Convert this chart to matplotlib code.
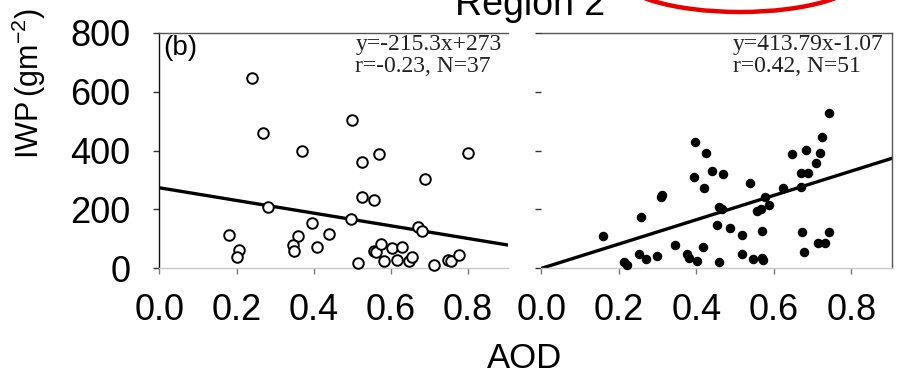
import matplotlib
matplotlib.use("Agg")
import matplotlib.pyplot as plt
from matplotlib.patches import Ellipse
import numpy as np

# ---- data -------------------------------------------------------------
aod_b = [0.24, 0.27, 0.37, 0.50, 0.525, 0.57, 0.80, 0.69, 0.526, 0.558,
         0.281, 0.498, 0.396, 0.670, 0.681, 0.180, 0.359, 0.441, 0.346, 0.350,
         0.409, 0.206, 0.202, 0.515, 0.556, 0.562, 0.575, 0.605, 0.630, 0.584,
         0.616, 0.649, 0.656, 0.714, 0.748, 0.757, 0.778]
iwp_b = [648, 461, 400, 503, 360, 388, 393, 303, 243, 230,
         207, 166, 153, 139, 125, 114, 108, 115, 79, 57,
         70, 60, 36, 17, 57, 53, 82, 68, 71, 23,
         26, 23, 37, 9, 26, 23, 43]

aod_c = [0.742, 0.725, 0.720, 0.684, 0.648, 0.710, 0.670, 0.689, 0.670, 0.623,
         0.397, 0.426, 0.439, 0.468, 0.393, 0.420, 0.538, 0.308, 0.311, 0.258,
         0.160, 0.458, 0.465, 0.576, 0.588, 0.556, 0.566, 0.453, 0.488, 0.517,
         0.569, 0.672, 0.742, 0.713, 0.733, 0.678, 0.345, 0.416, 0.253, 0.270,
         0.299, 0.212, 0.222, 0.376, 0.381, 0.402, 0.459, 0.517, 0.546, 0.569,
         0.572]
iwp_c = [529, 447, 391, 402, 388, 359, 325, 325, 275, 272,
         428, 391, 331, 320, 309, 272, 291, 243, 248, 175,
         110, 207, 200, 243, 215, 195, 200, 145, 136, 113,
         125, 121, 122, 85, 85, 54, 79, 71, 48, 31,
         40, 19, 9, 48, 34, 23, 19, 49, 32, 34,
         28]

fit_b = (-215.3, 273.0)     # slope, intercept
fit_c = (413.79, -1.07)
stats_b = "y=-215.3x+273\nr=-0.23, N=37"
stats_c = "y=413.79x-1.07\nr=0.42, N=51"

x_ticks = [0.0, 0.2, 0.4, 0.6, 0.8]
y_ticks = [0, 200, 400, 600, 800]
x_lim = (0.0, 0.905)
y_lim = (0, 800)

SANS = ["Liberation Sans", "DejaVu Sans"]
SERIF = ["Liberation Serif", "DejaVu Serif"]

W, H = 903, 374
fig = plt.figure(figsize=(W / 100, H / 100), dpi=100)
fig.patch.set_facecolor("white")


def px_axes(x0, x1, y0, y1):
    return fig.add_axes([x0 / W, 1 - y1 / H, (x1 - x0) / W, (y1 - y0) / H])


ax_b = px_axes(159.5, 508, 33, 268)
ax_c = px_axes(541.5, 892, 33, 268)

for ax in (ax_b, ax_c):
    ax.set_xlim(*x_lim)
    ax.set_ylim(*y_lim)
    ax.set_xticks(x_ticks)
    ax.set_xticklabels([f"{t:.1f}" for t in x_ticks])
    ax.set_yticks(y_ticks)
    ax.tick_params(axis="x", direction="out", length=4, width=1,
                   color="#777777", pad=14, labelsize=26)
    ax.tick_params(axis="y", direction="out", length=4, width=1,
                   color="#333333", pad=17, labelsize=26)
    for lab in ax.get_xticklabels() + ax.get_yticklabels():
        lab.set_fontfamily(SANS)
    ax.spines["bottom"].set_color("#c8c8c8")
    ax.spines["top"].set_color("#555555")
    for s in ax.spines.values():
        s.set_linewidth(1.0)

ax_b.spines["right"].set_visible(False)
ax_b.spines["left"].set_color("#111111")
ax_c.spines["left"].set_visible(False)
ax_c.spines["right"].set_color("#555555")
ax_c.tick_params(axis="y", labelleft=False)

xx = np.array(x_lim)

# panel (b): open circles with fitted line
ax_b.scatter(aod_b, iwp_b, s=58, facecolors="white", edgecolors="black",
             linewidths=1.4, zorder=3, clip_on=False)
ax_b.plot(xx, fit_b[0] * xx + fit_b[1], color="black", lw=2.4, zorder=2)
ax_b.text(0.011, 0.99, "(b)", transform=ax_b.transAxes, ha="left", va="top",
          fontsize=20, family=SANS)
ax_b.text(0.562, 0.997, stats_b, transform=ax_b.transAxes, ha="left", va="top",
          fontsize=17, family=SERIF, color="#222222", linespacing=1.1)

# second panel: filled dots with fitted line
ax_c.scatter(aod_c, iwp_c, s=34, color="black", zorder=3, clip_on=False)
ax_c.plot(xx, fit_c[0] * xx + fit_c[1], color="black", lw=2.4, zorder=2)
ax_c.text(0.545, 0.997, stats_c, transform=ax_c.transAxes, ha="left", va="top",
          fontsize=17, family=SERIF, color="#222222", linespacing=1.1)

# overlay in pixel units for shared labels, title and highlight ring
ov = fig.add_axes([0, 0, 1, 1], zorder=10)
ov.set_xlim(0, W)
ov.set_ylim(H, 0)
ov.axis("off")

ov.text(605, 15, "Region 2", ha="right", va="baseline", fontsize=27,
        family=SANS)
ov.text(525, 358, "AOD", ha="center", va="center", fontsize=25, family=SANS)
ov.text(29, 84, r"IWP$\,$(gm$^{\mathregular{-2}}$)", ha="center", va="center",
        rotation=90, fontsize=22, family=SANS)

ov.add_patch(Ellipse((740, -25), 244, 74, fill=False, edgecolor="#e80000",
                     linewidth=3.2, clip_on=False))

fig.savefig("out.png", dpi=100, facecolor="white")
